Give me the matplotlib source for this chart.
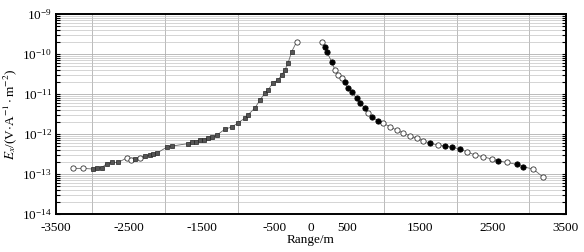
import matplotlib
matplotlib.use("Agg")
import matplotlib.pyplot as plt
import matplotlib.ticker as mticker
import numpy as np

plt.rcParams["font.family"] = ["Liberation Serif", "DejaVu Serif"]
plt.rcParams["mathtext.fontset"] = "stix"

# ── Data ──────────────────────────────────────────────────────────────────────
# marker kind: o = open circle, f = filled circle, s = small symbol
left_range = [-3262, -3125, -2992, -2937, -2869, -2804, -2736, -2649, -2530, -2471,
              -2416, -2347, -2278, -2210, -2169, -2118, -1980, -1908, -1688, -1633,
              -1578, -1524, -1469, -1414, -1359, -1295, -1180, -1084, -1002, -906,
              -865, -769, -700, -631, -590, -522, -453, -402, -357, -316, -265, -196]
left_ex = [1.38e-13, 1.38e-13, 1.33e-13, 1.38e-13, 1.45e-13, 1.82e-13, 1.95e-13, 1.95e-13,
           2.5e-13, 2.3e-13, 2.4e-13, 2.57e-13, 2.75e-13, 2.95e-13, 3.16e-13, 3.3e-13,
           4.7e-13, 5.0e-13, 5.75e-13, 6.2e-13, 6.45e-13, 6.9e-13, 7.2e-13, 7.8e-13,
           8.3e-13, 9.3e-13, 1.33e-12, 1.5e-12, 1.9e-12, 2.5e-12, 3.0e-12, 4.5e-12,
           7.1e-12, 1.06e-11, 1.26e-11, 1.9e-11, 2.24e-11, 3.0e-11, 4.0e-11, 5.9e-11,
           1.15e-10, 2.04e-10]
left_kind = ["o", "o"] + ["s"] * 6 + ["o", "o", "s", "o", "s", "s", "s", "s"] + ["s"] * 25 + ["o"]

right_range = [147, 192, 215, 284, 329, 370, 421, 467, 508, 558, 627, 672, 741, 782, 833,
               919, 988, 1084, 1176, 1263, 1359, 1451, 1537, 1633, 1743, 1839, 1931, 2045,
               2137, 2251, 2361, 2480, 2567, 2686, 2823, 2914, 3051, 3188]
right_ex = [2.04e-10, 1.51e-10, 1.15e-10, 6.5e-11, 4.0e-11, 3.0e-11, 2.5e-11, 2.0e-11,
            1.4e-11, 1.15e-11, 7.8e-12, 6.0e-12, 4.5e-12, 3.35e-12, 2.7e-12, 2.15e-12,
            1.9e-12, 1.5e-12, 1.26e-12, 1.06e-12, 8.9e-13, 7.8e-13, 6.8e-13, 5.9e-13,
            5.3e-13, 5.0e-13, 4.7e-13, 4.2e-13, 3.6e-13, 3.0e-13, 2.7e-13, 2.37e-13,
            2.14e-13, 1.95e-13, 1.74e-13, 1.51e-13, 1.33e-13, 8.3e-14]
right_kind = ["o", "f", "f", "f", "o", "o", "o", "f", "f", "f", "f", "f", "f", "o", "f",
              "f", "o", "o", "o", "o", "o", "o", "o", "f", "o", "f", "f", "f", "o", "o",
              "o", "o", "f", "o", "f", "f", "o", "o"]

xtick_labels = ["-3500", "-2500", "-1500", "-500", "0", "500", "1500", "2500", "3500"]
xgrid_pos = np.arange(-3500, 3501, 500)

# ── Plot ──────────────────────────────────────────────────────────────────────
fig = plt.figure(figsize=(5.84, 2.52), dpi=100)
ax = fig.add_axes([0.096, 0.151, 0.873, 0.793])

style = {
    "o": dict(marker="o", ms=3.8, mfc="white", mec="#333333", mew=0.6),
    "f": dict(marker="o", ms=3.8, mfc="black", mec="black", mew=0.6),
    "s": dict(marker="s", ms=2.4, mfc="#555555", mec="#222222", mew=0.5),
}

for xs, ys, kinds in ((left_range, left_ex, left_kind), (right_range, right_ex, right_kind)):
    xs = np.asarray(xs)
    ys = np.asarray(ys)
    kinds = np.asarray(kinds)
    ax.plot(xs, ys, "-", color="#666666", lw=0.6, zorder=2)
    for k in ("o", "s", "f"):
        m = kinds == k
        ax.plot(xs[m], ys[m], ls="none", zorder=3, **style[k])

ax.set_yscale("log")
ax.set_xlim(-3500, 3500)
ax.set_ylim(1e-14, 1e-9)

ax.set_xticks([float(t) for t in xtick_labels])
ax.set_xticklabels(xtick_labels)
ax.set_xticks(xgrid_pos, minor=True)
ax.yaxis.set_major_locator(mticker.LogLocator(base=10, numticks=10))
ax.yaxis.set_minor_locator(mticker.LogLocator(base=10, subs=np.arange(2, 10), numticks=20))
ax.yaxis.set_major_formatter(mticker.LogFormatterMathtext())
ax.yaxis.set_minor_formatter(mticker.NullFormatter())

ax.grid(True, which="major", axis="y", color="#b0b0b0", lw=0.6)
ax.grid(True, which="minor", axis="y", color="#c4c4c4", lw=0.5)
ax.grid(True, which="minor", axis="x", color="#b0b0b0", lw=0.6)

ax.tick_params(axis="y", which="major", direction="in", length=3, width=0.8,
               labelsize=9.5, right=True, pad=3)
ax.tick_params(axis="y", which="minor", direction="in", length=3, width=0.8, right=True)
ax.tick_params(axis="x", which="both", length=0, labelsize=9.5, pad=6)
for sp in ax.spines.values():
    sp.set_linewidth(1.4)

ax.set_xlabel("Range/m", fontsize=9.5, labelpad=0)
ax.set_ylabel(r"$E_{x}$/(V$\cdot$A$^{-1}\cdot$m$^{-2}$)", fontsize=9.5, labelpad=2)

fig.savefig("out.png", dpi=100)
